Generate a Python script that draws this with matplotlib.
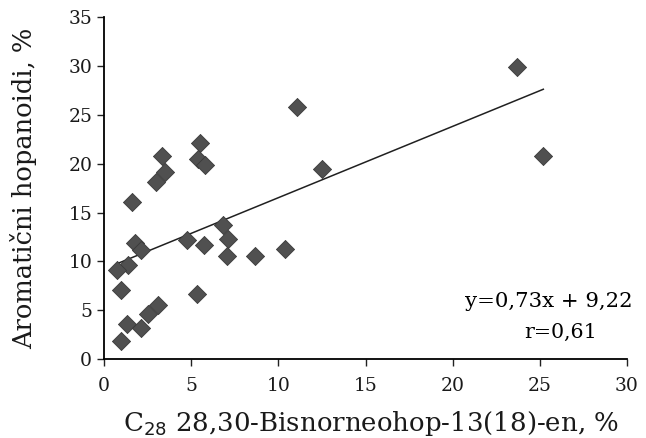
# Scatter of aromatic hopanoids vs C28 bisnorneohopene with regression line
import matplotlib.pyplot as plt
import numpy as np

# Data
x_vals = [5.5, 3.3, 5.4, 5.8, 3.5, 3.0, 1.6, 6.85, 1.75, 4.75, 7.1, 2.15, 5.75,
          10.4, 7.05, 8.65, 1.35, 0.75, 1.0, 5.35, 3.1, 2.55, 1.3, 2.1, 1.0,
          23.7, 11.05, 12.5, 25.2]
y_vals = [22.1, 20.8, 20.5, 19.9, 19.1, 18.1, 16.1, 13.7, 11.9, 12.2, 12.3, 11.2, 11.7,
          11.3, 10.6, 10.6, 9.6, 9.1, 7.1, 6.7, 5.5, 4.6, 3.6, 3.2, 1.9,
          29.9, 25.8, 19.5, 20.8]
slope = 0.73
intercept = 9.22
r_value = 0.61

plt.rcParams['font.family'] = ['DejaVu Serif']

fig, ax = plt.subplots(figsize=(6.46, 4.38), dpi=100)
fig.subplots_adjust(left=0.161, right=0.9706, bottom=0.180, top=0.961)

ax.scatter(x_vals, y_vals, marker='D', s=85, color='#505050',
           edgecolors='#3a3a3a', linewidths=0.6, zorder=3)

xl = np.array([min(x_vals), max(x_vals)])
ax.plot(xl, slope * xl + intercept, color='#202020', lw=1.1, zorder=2)

ax.set_xlim(0, 30)
ax.set_ylim(0, 35)
ax.set_xticks(range(0, 31, 5))
ax.set_yticks(range(0, 36, 5))
ax.tick_params(labelsize=13.5, direction='out', length=5, width=1,
               colors='#222222', labelcolor='#1a1a1a')
ax.tick_params(axis='x', pad=8)
ax.tick_params(axis='y', pad=3.5)
ax.spines['top'].set_visible(False)
ax.spines['right'].set_visible(False)
ax.spines['left'].set_linewidth(1.3)
ax.spines['bottom'].set_linewidth(1.3)

ax.set_xlabel('C$_{28}$ 28,30-Bisnorneohop-13(18)-en, %', fontsize=18.7, color='#1a1a1a')
ax.set_ylabel('Aromatični hopanoidi, %', fontsize=18.5, color='#1a1a1a')
ax.xaxis.set_label_coords(0.51, -0.147)
ax.yaxis.set_label_coords(-0.128, 0.50)

ax.text(30.35, 5.9, 'y=0,73x + 9,22', fontsize=15.3, ha='right', va='center',
        clip_on=False)
ax.text(28.3, 2.7, 'r=0,61', fontsize=14.8, ha='right', va='center')

fig.savefig('out.png', dpi=100)
